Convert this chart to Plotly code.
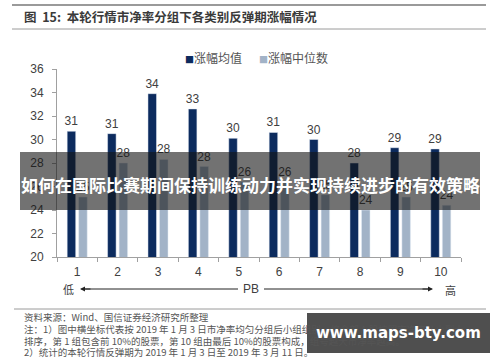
import plotly.graph_objects as go

categories = ["1", "2", "3", "4", "5", "6", "7", "8", "9", "10"]
mean_vals = [30.7, 30.5, 33.9, 32.6, 30.1, 30.6, 30.0, 28.0, 29.3, 29.2]
median_vals = [25.1, 28.0, 28.3, 27.7, 26.4, 26.4, 25.3, 24.0, 25.1, 24.4]
y_ticks = [20, 22, 24, 26, 28, 30, 32, 34, 36]
series_names = ["涨幅均值", "涨幅中位数"]
series_colors = ["#0c2b5e", "#a2b3c7"]

title_text = "图  15:  本轮行情市净率分组下各类别反弹期涨幅情况"
banner_text = "如何在国际比赛期间保持训练动力并实现持续进步的有效策略"
notes = [
    "资料来源：Wind、国信证券经济研究所整理",
    "注：1）图中横坐标代表按 2019 年 1 月 3 日市净率均匀分组后小组组别，将全部 A 股按照市净率从小到大",
    "排序，第 1 组包含前 10%的股票，第 10 组由最后 10%的股票构成，组号越大市净率越高。",
    "2）统计的本轮行情反弹期为 2019 年 1 月 3 日至 2019 年 3 月 11 日。",
]

W, H = 500, 362
L, R, T, B = 57, 461, 69, 257

def px(x):
    return (x - L) / (R - L)

def py(y):
    return (B - y) / (B - T)

CJK = "Noto Sans CJK SC"
NUM = "Liberation Sans, Arial"

fig = go.Figure()
for vals, name, col in zip([mean_vals, median_vals], series_names, series_colors):
    fig.add_trace(go.Bar(
        x=categories, y=vals, name=name,
        marker=dict(color=col),
        texttemplate="%{y:.0f}", textposition="outside", constraintext="none",
        textfont=dict(family=NUM, size=12, color="#404040"),
        cliponaxis=False,
    ))

fig.update_layout(
    width=W, height=H,
    margin=dict(l=L, r=W - R, t=T, b=H - B, autoexpand=False),
    paper_bgcolor="white", plot_bgcolor="white",
    barmode="group", bargap=0.43, bargroupgap=0.26,
    showlegend=False,
    xaxis=dict(type="category", showline=True, linecolor="#a0a0a0", linewidth=1,
               ticks="outside", tickson="boundaries", ticklen=4, tickcolor="#a0a0a0",
               ticklabelstandoff=4,
               tickfont=dict(family=NUM, size=12, color="#404040"), showgrid=False),
    yaxis=dict(range=[20, 36], tickvals=y_ticks, showline=True, linecolor="#a0a0a0",
               linewidth=1, ticks="outside", ticklen=4, tickcolor="#a0a0a0",
               ticklabelstandoff=6,
               tickfont=dict(family=NUM, size=12, color="#404040"), showgrid=False,
               zeroline=False),
    font=dict(family=CJK),
)

def hline(x0, x1, y, color, width):
    return dict(type="line", xref="paper", yref="paper", x0=px(x0), x1=px(x1), y0=py(y), y1=py(y),
                line=dict(color=color, width=width))

shapes = [
    hline(12, 486, 5, "#9a9a9a", 2),
    hline(12, 486, 29, "#9a9a9a", 1),
    hline(14, 486, 309, "#9a9a9a", 1),
    hline(84, 238, 289, "#222222", 1),
    hline(264, 428, 289, "#222222", 1),
    dict(type="rect", xref="paper", yref="paper", x0=px(20), x1=px(480), y0=py(210), y1=py(152),
         fillcolor="rgba(20,20,20,0.6)", line=dict(width=0), layer="above"),
    dict(type="rect", xref="paper", yref="paper", x0=px(307), x1=px(490), y0=py(353), y1=py(313),
         fillcolor="rgba(70,70,70,0.95)", line=dict(width=0), layer="above"),
]
fig.update_layout(shapes=shapes)

def text(t, x, y, size, color, family=CJK, xanchor="center"):
    return dict(text=t, xref="paper", yref="paper", x=px(x), y=py(y), xanchor=xanchor,
                yanchor="middle", showarrow=False, font=dict(family=family, size=size, color=color))

ann = []
ann.append(text("<b>" + title_text + "</b>", 22, 17, 12.5, "#3a3a3a", xanchor="left"))
for name, col, lx in zip(series_names, series_colors, [183, 257]):
    ann.append(text("<span style='color:%s;font-size:9px'>■</span>%s" % (col, name), lx, 57, 12,
                    "#555555", xanchor="left"))
ann.append(dict(text="", xref="paper", yref="paper", x=px(80), y=py(289), ax=12, ay=0,
                showarrow=True, arrowhead=2, arrowsize=1, arrowwidth=1, arrowcolor="#222222"))
ann.append(dict(text="", xref="paper", yref="paper", x=px(433), y=py(289), ax=-12, ay=0,
                showarrow=True, arrowhead=2, arrowsize=1, arrowwidth=1, arrowcolor="#222222"))
ann.append(text("低", 68, 289, 11, "#404040"))
ann.append(text("PB", 251, 289, 12, "#404040", family=NUM))
ann.append(text("高", 450, 290, 11, "#404040"))
for t, yy in zip(notes, [317, 329, 341, 352]):
    ann.append(text(t, 22, yy, 9.5, "#555555", xanchor="left"))
ann.append(text("<b>" + banner_text + "</b>", 250, 184, 17, "white"))
ann.append(text("<b>www.maps-bty.com</b>", 398, 333, 15, "white", family="DejaVu Sans"))
fig.update_layout(annotations=ann)

fig.write_html("out.html", config={"displayModeBar": False},
               post_script="document.body.style.margin='0';document.body.style.overflow='hidden';")
